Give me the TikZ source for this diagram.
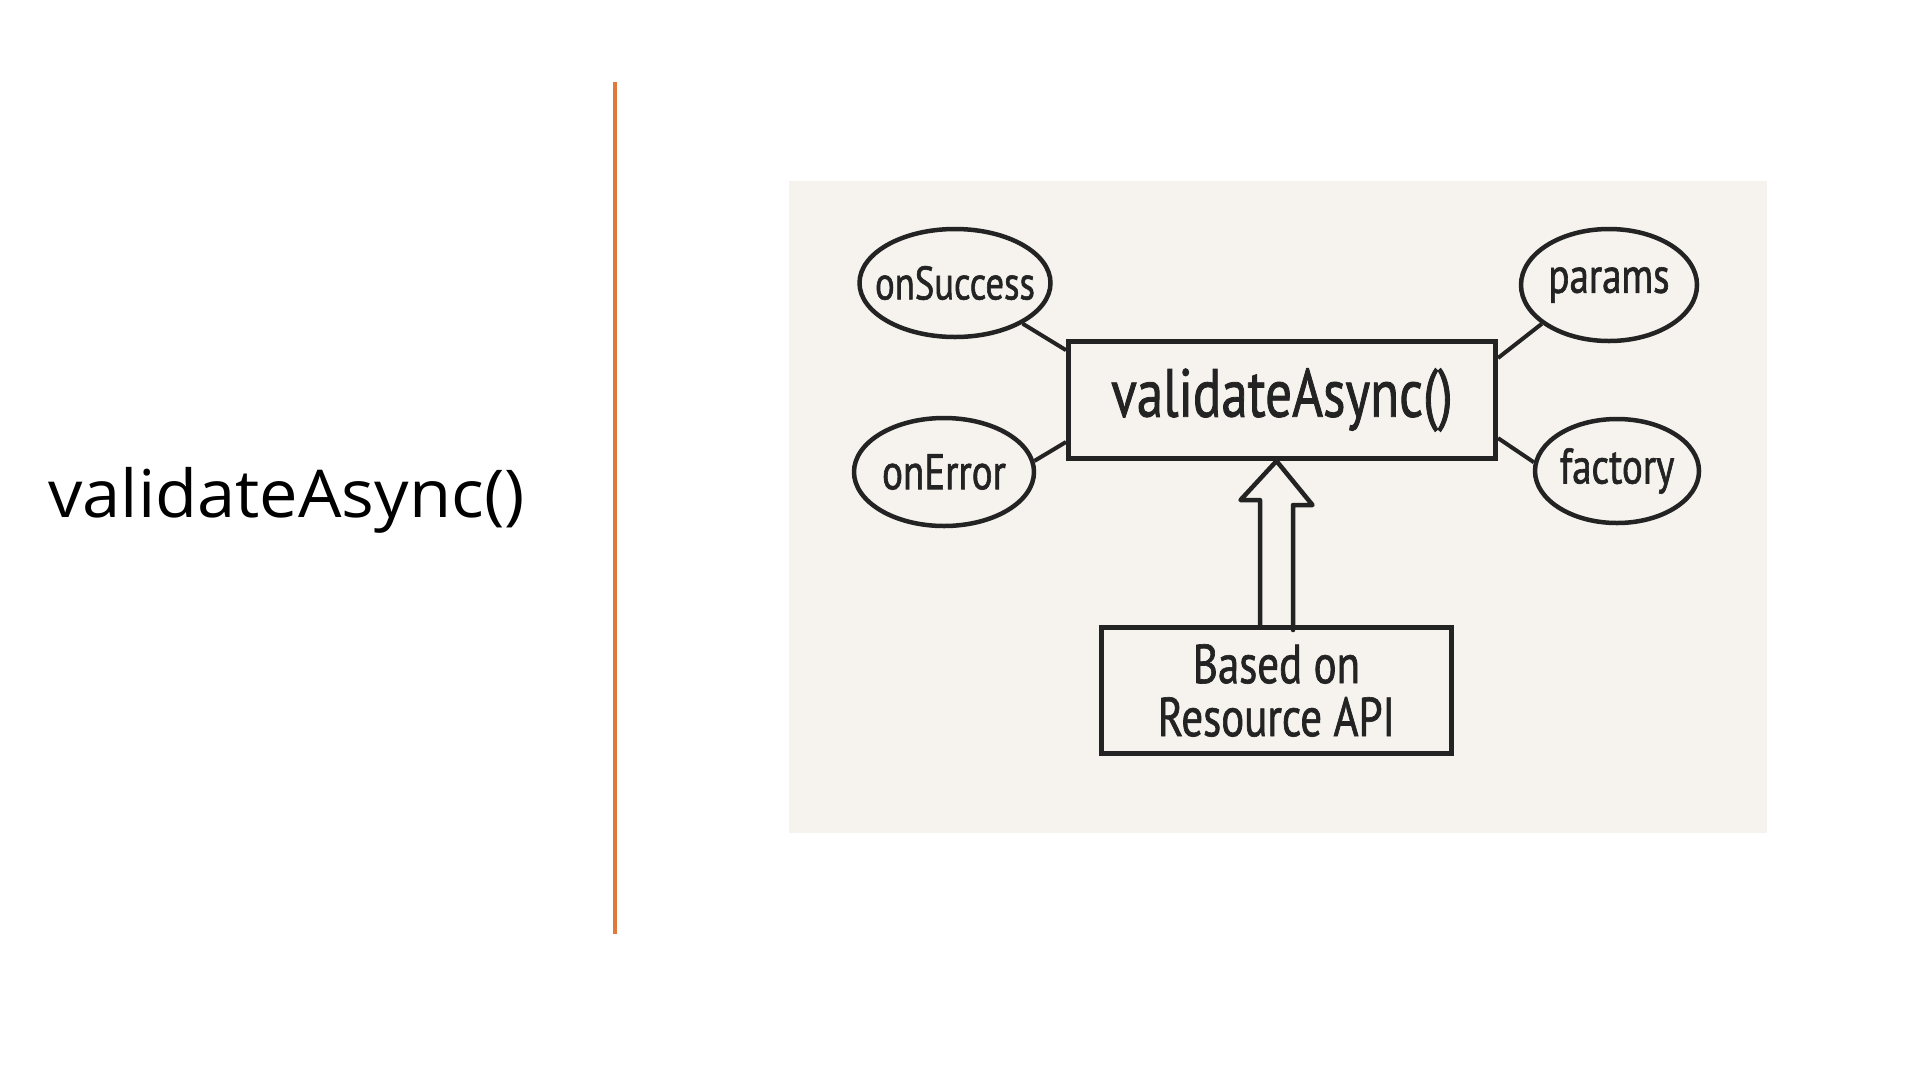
\documentclass[tikz,border=0pt]{standalone}
\usepackage{fontspec}
\setmainfont{Open Sans}
\newfontfamily\titlefont[FakeStretch=1.04]{Open Sans}
\newfontfamily\handfont[FakeStretch=0.78,FakeBold=1.2]{PT Sans}
\usetikzlibrary{shapes.geometric}
\definecolor{panelbg}{HTML}{F6F3EE}
\definecolor{ink}{HTML}{232323}
\definecolor{rulecol}{HTML}{E07A3C}
\newcommand\zw[1]{\makebox[0pt]{#1}}
\tikzset{
  elli/.style={ellipse, draw=ink, line width=4.5pt, fill=panelbg, inner sep=0pt, text=ink,
    font=\handfont\fontsize{50}{55}\selectfont},
  boxnode/.style={rectangle, draw=ink, line width=5pt, fill=panelbg, inner sep=0pt, text=ink},
  link/.style={draw=ink, line width=4pt},
  hollow/.style={draw=ink, line width=4.5pt, line join=round, line cap=round}
}
\begin{document}
\begin{tikzpicture}[x=1pt,y=-1pt]
\useasboundingbox (0,0) rectangle (1920,1080);
\fill[white] (0,0) rectangle (1920,1080);
% title
\node[anchor=base west, inner sep=0pt, text=black, font=\titlefont\fontsize{66}{70}\selectfont] (title) at (48,517) {validateAsync()};
% orange rule
\coordinate (rtop) at (615,82);
\coordinate (rbot) at (615,934);
\draw[rulecol, line width=4pt] (rtop) -- (rbot);
% panel
\fill[panelbg] (789,181) rectangle (1767,833);
% nodes
\node[boxnode, minimum width=427pt, minimum height=117pt,
  font=\handfont\fontsize{68}{72}\selectfont] (main) at (1282,400) {validateAsync()};
\node[boxnode, minimum width=350pt, minimum height=126pt, align=center,
  font=\handfont\fontsize{55}{53}\selectfont] (bot) at (1276.5,690.5) {Based on\\Resource API};
\node[elli, minimum width=191pt, minimum height=108pt, font=\handfont\fontsize{47}{52}\selectfont] (succ) at (955,283) {\zw{onSuccess}};
\node[elli, minimum width=180pt, minimum height=108pt] (err) at (944,472) {\zw{onError}};
\node[elli, minimum width=176pt, minimum height=112pt] (par) at (1609,285) {\zw{params}};
\node[elli, minimum width=164pt, minimum height=104pt] (fac) at (1617,471) {\zw{factory}};
% connectors
\draw[link] (succ.329) -- (main.167.5);
\draw[link] (err.7) -- (main.191);
\draw[link] (par.210) -- (main.11);
\draw[link] (fac.174) -- (main.350);
% hollow arrow
\coordinate (tip) at (bot.north |- main.south);
\draw[hollow] (bot.north) ++(-16.5,0) -- ++(0,-125) -- ++(-19.5,0) -- (tip)
  -- ++(36,44) -- ++(-19.5,0) -- ++(0,125);
\end{tikzpicture}
\end{document}
